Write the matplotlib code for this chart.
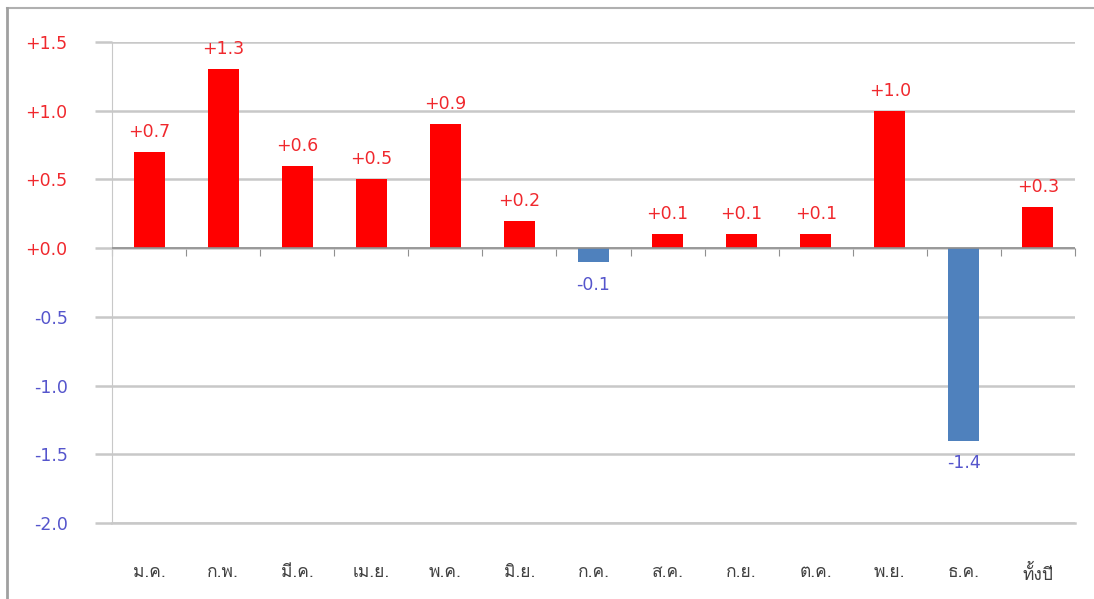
import matplotlib
matplotlib.use("Agg")
import matplotlib.pyplot as plt
from matplotlib import font_manager
from matplotlib.ft2font import FT2Font
from matplotlib.lines import Line2D
from matplotlib.ticker import NullFormatter
import numpy as np

# ข้อมูลรายเดือน
months = ['ม.ค.', 'ก.พ.', 'มี.ค.', 'เม.ย.', 'พ.ค.', 'มิ.ย.', 'ก.ค.',
          'ส.ค.', 'ก.ย.', 'ต.ค.', 'พ.ย.', 'ธ.ค.', 'ทั้งปี']
values = [0.7, 1.3, 0.6, 0.5, 0.9, 0.2, -0.1, 0.1, 0.1, 0.1, 1.0, -1.4, 0.3]
y_ticks = [1.5, 1.0, 0.5, 0.0, -0.5, -1.0, -1.5, -2.0]

RED = '#ff0000'
BLUE = '#4f81bd'
RED_TXT = '#f0282d'
BLUE_TXT = '#5555cc'


# หาแบบอักษรที่มีตัวอักษรไทย
def find_thai_font():
    names = []
    for f in font_manager.fontManager.ttflist:
        try:
            ft = FT2Font(f.fname)
            if ft.get_char_index(0x0E01) and ft.get_char_index(0x0E31):
                names.append(f.name)
        except Exception:
            pass
    return names[0] if names else None


thai = find_thai_font()
fams = ['DejaVu Sans'] if thai is None else [thai, 'DejaVu Sans']

fig = plt.figure(figsize=(10.94, 5.99), dpi=100)
ax = fig.add_axes([0.1024, 0.1269, 0.8802, 0.8030])

x = np.arange(len(months))
colors = [RED if v >= 0 else BLUE for v in values]
ax.bar(x, values, width=0.42, color=colors, zorder=3)

ax.set_xlim(-0.5, len(months) - 0.5)
ax.set_ylim(-2.0, 1.5)

# เส้นกริด
ax.set_yticks(y_ticks)
ax.yaxis.grid(True, color='#c8c8c8', linewidth=1.8, zorder=0)
ax.tick_params(axis='y', length=12, color='#c8c8c8', width=1.8, pad=20)
ax.set_yticklabels([f'{t:+.1f}' for t in y_ticks], fontsize=12.5)
for lab, t in zip(ax.get_yticklabels(), y_ticks):
    lab.set_color(RED_TXT if t >= 0 else BLUE_TXT)

for s in ['top', 'right']:
    ax.spines[s].set_visible(False)
ax.spines['left'].set_color('#c8c8c8')
ax.spines['bottom'].set_color('#c8c8c8')
ax.spines['bottom'].set_linewidth(1.8)

ax.set_xticks(x)
ax.set_xticklabels(months, fontsize=12.5, color='#404040', family=fams)
ax.tick_params(axis='x', length=0, pad=30)

# แกนที่ระดับศูนย์
ax.axhline(0, color='#909090', linewidth=1.2, zorder=4)
sec = ax.secondary_xaxis(2.0 / 3.5)
sec.set_xticks(np.arange(-0.5, len(months), 1.0))
sec.xaxis.set_major_formatter(NullFormatter())
sec.tick_params(axis='x', direction='out', length=6, color='#909090')
sec.spines['bottom'].set_visible(False)
sec.spines['top'].set_visible(False)
sec.xaxis.set_ticks_position('bottom')

# ป้ายค่าบนแท่ง
for xi, v in zip(x, values):
    if v >= 0:
        ax.annotate(f'{v:+.1f}', (xi, v), xytext=(0, 8), textcoords='offset points',
                    ha='center', va='bottom', fontsize=12.5, color=RED_TXT)
    else:
        ax.annotate(f'{v:+.1f}', (xi, v), xytext=(0, -10), textcoords='offset points',
                    ha='center', va='top', fontsize=12.5, color=BLUE_TXT)

# กรอบของแผนภูมิ
fig.add_artist(Line2D([0.0064, 1.0], [0.9866, 0.9866], color='#b0b0b0', linewidth=1.5))
fig.add_artist(Line2D([0.0064, 0.0064], [0.0, 0.9866], color='#a0a0a0', linewidth=2))

fig.savefig('out.png', dpi=100)
